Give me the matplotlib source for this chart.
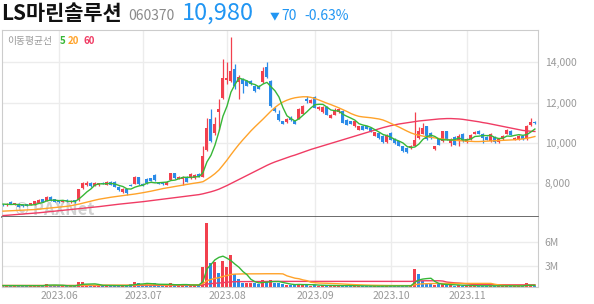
import numpy as np
import matplotlib
matplotlib.use('Agg')
import matplotlib.pyplot as plt
from matplotlib.ticker import FuncFormatter

plt.rcParams['font.family'] = ['Noto Sans CJK KR', 'DejaVu Sans']

# 일봉 데이터 (2023.05.11 ~ 2023.11.24, 거래일 인덱스 기준)
opens = [6930, 6920, 7080, 6960, 6980, 6900, 6950, 6930, 6950, 7030,
         7200, 7120, 7330, 7200, 7150, 7080, 7170, 7050, 7150, 7160,
         7750, 7900, 8000, 7870, 7920, 8020, 7920, 8080, 8080, 7830,
         7570, 7700, 7920, 7980, 8300, 7980, 8230, 8250, 8400, 8030,
         8010, 7920, 8170, 8500, 8220, 8220, 8330, 8250, 8250, 8460,
         8330, 9630, 11200, 10500, 11530, 12250, 13130, 13080, 13660, 13030,
         13160, 13080, 13080, 12830, 12830, 13000, 13750, 13080, 11750, 11450,
         11080, 11030, 11250, 11080, 11200, 11450, 12200, 12000, 12300, 11660,
         11530, 11800, 11250, 11410, 11530, 11580, 11160, 11080, 10830, 10660,
         10830, 10830, 10750, 10370, 10500, 10370, 10050, 10500, 10200, 10080,
         9830, 9750, 9750, 9860, 10250, 10450, 10830, 10500, 9700, 10200,
         10080, 10580, 10000, 10300, 10080, 10460, 10030, 10200, 10450, 10580,
         10450, 10300, 10080, 10300, 10030, 10200, 10450, 10610, 10160, 10160,
         10330, 10200, 10910, 11050]
highs = [6960, 7010, 7100, 7030, 7000, 6920, 6980, 7030, 7130, 7200,
         7230, 7380, 7360, 7230, 7180, 7180, 7200, 7150, 7180, 7720,
         8080, 8100, 8050, 8050, 8040, 8060, 8120, 8100, 8110, 7860,
         7750, 7730, 7950, 8360, 8330, 8000, 8280, 8280, 8450, 8060,
         8040, 8120, 8530, 8530, 8360, 8360, 8360, 8490, 8450, 8490,
         9830, 11250, 11700, 11300, 12160, 14160, 14030, 15250, 13910, 13350,
         13200, 13120, 13120, 12870, 12870, 13750, 14000, 13120, 11800, 11620,
         11110, 11230, 11330, 11110, 11740, 11870, 12330, 12160, 12330, 11830,
         11830, 11830, 11440, 11750, 11730, 11610, 11190, 11110, 11110, 10860,
         10860, 10860, 10780, 10560, 10530, 10400, 10440, 10530, 10230, 10110,
         9860, 9780, 9890, 11530, 10800, 11000, 10860, 10530, 9860, 10230,
         10610, 10610, 10230, 10330, 10450, 10490, 10230, 10440, 10580, 10640,
         10480, 10330, 10480, 10330, 10230, 10400, 10700, 10640, 10280, 10400,
         10360, 10900, 11250, 11100]
lows = [6880, 6900, 6950, 6940, 6830, 6850, 6880, 6910, 6930, 7000,
        7060, 7100, 7130, 7050, 7040, 7060, 7090, 7030, 7030, 7140,
        7720, 7850, 7820, 7850, 7890, 7950, 7900, 7900, 7800, 7630,
        7540, 7420, 7850, 7960, 7940, 7870, 7980, 8100, 8130, 7960,
        7940, 7900, 8150, 8230, 8200, 7920, 8060, 8230, 8230, 8310,
        8310, 9580, 10050, 10400, 10660, 12200, 12910, 13000, 12660, 12160,
        12470, 12800, 12880, 12550, 12670, 12980, 13220, 11800, 11550, 11080,
        10940, 11000, 11080, 10940, 11170, 11420, 12000, 11970, 11720, 11640,
        11500, 11380, 11220, 11390, 11500, 10970, 10880, 10930, 10800, 10630,
        10630, 10670, 10550, 10340, 10220, 10020, 10020, 10130, 9970, 9830,
        9550, 9500, 9720, 9830, 10220, 10420, 10170, 10220, 9670, 9880,
        10050, 10170, 9860, 9880, 9850, 10050, 10000, 10170, 10420, 10420,
        10000, 10130, 10050, 10000, 10000, 10170, 10420, 10380, 10130, 10130,
        10170, 10170, 10830, 10950]
closes = [6910, 6990, 6960, 7000, 6850, 6870, 6900, 7000, 7100, 7160,
          7080, 7330, 7160, 7080, 7060, 7150, 7110, 7120, 7050, 7700,
          8000, 8020, 7850, 8000, 8010, 7980, 8080, 7920, 7830, 7660,
          7710, 7500, 7880, 8300, 7960, 7890, 8000, 8120, 8150, 7990,
          7970, 8080, 8500, 8250, 8330, 8330, 8080, 8460, 8420, 8330,
          9360, 10750, 10080, 10950, 11660, 13200, 13210, 13580, 12830, 13250,
          12910, 12830, 12910, 12580, 12700, 13580, 13250, 11830, 11580, 11160,
          10960, 11200, 11160, 10960, 11700, 11830, 12080, 12130, 11750, 11800,
          11800, 11410, 11410, 11580, 11700, 11000, 10910, 10960, 11080, 10830,
          10660, 10700, 10580, 10530, 10250, 10050, 10410, 10160, 10000, 9860,
          9580, 9550, 9860, 10160, 10580, 10750, 10200, 10250, 9830, 9910,
          10580, 10200, 10200, 9910, 10370, 10080, 10200, 10410, 10550, 10450,
          10250, 10160, 10450, 10030, 10200, 10370, 10660, 10410, 10250, 10370,
          10200, 10860, 11050, 10980]

# 이동평균선
ma5 = [6970, 6960, 6950, 6960, 6942, 6934, 6916, 6924, 6944, 7006,
       7048, 7134, 7166, 7162, 7142, 7156, 7112, 7104, 7098, 7226,
       7396, 7578, 7724, 7914, 7976, 7972, 7984, 7998, 7964, 7894,
       7840, 7724, 7716, 7810, 7870, 7906, 8006, 8054, 8024, 8030,
       8046, 8062, 8138, 8158, 8226, 8298, 8298, 8290, 8324, 8324,
       8530, 9064, 9388, 9894, 10560, 11328, 11820, 12520, 12896, 13214,
       13156, 13080, 12946, 12896, 12786, 12920, 13004, 12788, 12588, 12280,
       11756, 11346, 11212, 11088, 11196, 11370, 11546, 11740, 11898, 11918,
       11912, 11778, 11634, 11600, 11580, 11420, 11320, 11230, 11130, 10956,
       10888, 10846, 10770, 10660, 10544, 10422, 10364, 10280, 10174, 10096,
       10002, 9830, 9770, 9802, 9946, 10180, 10310, 10388, 10322, 10188,
       10154, 10154, 10144, 10160, 10252, 10152, 10152, 10194, 10322, 10338,
       10372, 10364, 10372, 10268, 10218, 10242, 10342, 10334, 10378, 10412,
       10378, 10418, 10546, 10692]
ma20 = [6620, 6630, 6640, 6650, 6660, 6670, 6680, 6690, 6700, 6720,
        6740, 6760, 6780, 6800, 6820, 6840, 6860, 6890, 6930, 6970,
        7020, 7070, 7120, 7165, 7210, 7245, 7280, 7310, 7340, 7365,
        7390, 7415, 7440, 7470, 7500, 7535, 7570, 7610, 7650, 7695,
        7740, 7775, 7810, 7845, 7880, 7915, 7950, 7980, 8010, 8040,
        8080, 8200, 8330, 8480, 8660, 8900, 9150, 9420, 9680, 9930,
        10160, 10380, 10600, 10800, 10990, 11180, 11380, 11580, 11760, 11910,
        12030, 12120, 12190, 12240, 12270, 12290, 12290, 12260, 12200, 12130,
        12050, 11970, 11900, 11820, 11740, 11650, 11560, 11460, 11380, 11320,
        11290, 11270, 11250, 11220, 11190, 11140, 11060, 10970, 10880, 10790,
        10690, 10590, 10500, 10430, 10380, 10340, 10310, 10280, 10250, 10220,
        10190, 10170, 10150, 10130, 10115, 10100, 10090, 10080, 10070, 10070,
        10080, 10090, 10100, 10110, 10120, 10130, 10140, 10150, 10160, 10180,
        10200, 10230, 10270, 10320]
ma60 = [6400, 6415, 6430, 6445, 6460, 6475, 6490, 6505, 6520, 6540,
        6560, 6580, 6600, 6620, 6640, 6660, 6680, 6700, 6720, 6740,
        6760, 6780, 6800, 6820, 6845, 6870, 6895, 6920, 6945, 6965,
        6985, 7005, 7025, 7045, 7065, 7090, 7115, 7140, 7165, 7190,
        7210, 7235, 7260, 7285, 7310, 7335, 7360, 7385, 7410, 7440,
        7480, 7530, 7580, 7640, 7710, 7800, 7890, 7990, 8090, 8190,
        8290, 8390, 8490, 8590, 8690, 8790, 8890, 8980, 9060, 9130,
        9200, 9270, 9340, 9400, 9470, 9540, 9610, 9680, 9740, 9800,
        9860, 9920, 9980, 10040, 10100, 10160, 10220, 10280, 10340, 10400,
        10460, 10520, 10580, 10640, 10700, 10760, 10810, 10860, 10900, 10940,
        10970, 11000, 11030, 11060, 11090, 11110, 11130, 11150, 11170, 11190,
        11200, 11210, 11210, 11200, 11190, 11170, 11140, 11110, 11080, 11050,
        11010, 10980, 10940, 10900, 10860, 10820, 10780, 10740, 10700, 10660,
        10620, 10600, 10580, 10570]

# 거래량 (백만 주)
volume = [0.45, 0.5, 0.45, 0.4, 0.5, 0.4, 0.4, 0.45, 0.5, 0.45,
          0.4, 0.7, 0.5, 0.45, 0.4, 0.4, 0.45, 0.4, 0.45, 0.85,
          0.95, 0.55, 0.5, 0.5, 0.45, 0.4, 0.5, 0.45, 0.45, 0.45,
          0.4, 0.45, 0.65, 0.95, 0.75, 0.5, 0.8, 0.5, 0.8, 0.5,
          0.45, 0.5, 0.8, 0.55, 0.5, 0.55, 0.5, 0.55, 0.5, 0.5,
          2.87, 8.5, 3.4, 3.5, 2.1, 3.6, 2.8, 4.37, 1.94, 1.3,
          0.82, 0.82, 0.82, 0.82, 0.65, 1.17, 0.95, 1.17, 0.82, 0.75,
          0.6, 0.55, 0.55, 0.5, 0.7, 0.6, 0.5, 0.45, 0.55, 0.45,
          0.5, 0.45, 0.4, 0.45, 0.4, 0.5, 0.45, 0.4, 0.4, 0.4,
          0.4, 0.35, 0.4, 0.35, 0.4, 0.45, 0.4, 0.4, 0.35, 0.4,
          0.45, 0.45, 0.4, 2.58, 1.94, 1.08, 0.7, 0.65, 0.55, 0.6,
          0.65, 0.55, 0.5, 0.45, 0.5, 0.45, 0.45, 0.4, 0.45, 0.4,
          0.45, 0.4, 0.45, 0.4, 0.4, 0.4, 0.45, 0.4, 0.4, 0.4,
          0.4, 0.74, 0.5, 0.4]
vol_colors = ("brbrbbbrrr" "brbbbrbrbr" "rrbrrbrbbb" "rbbrbbbbbb" "brrbrrbrrb"
              "rrbrbrrrbb" "brrbbrbrbb" "brbbrrbrbr" "rbrrrbbbrr" "bbbrbbrbbb"
              "bbrrbbbbrb" "rbrbrbrrrb" "bbrbrrrbrr" "brrb")
vma5 = [0.45, 0.45, 0.46, 0.46, 0.46, 0.45, 0.45, 0.44, 0.45, 0.45,
        0.44, 0.5, 0.51, 0.52, 0.51, 0.49, 0.44, 0.42, 0.42, 0.51,
        0.62, 0.64, 0.66, 0.67, 0.59, 0.48, 0.47, 0.46, 0.45, 0.45,
        0.45, 0.44, 0.48, 0.58, 0.64, 0.66, 0.73, 0.7, 0.67, 0.62,
        0.61, 0.61, 0.61, 0.56, 0.56, 0.58, 0.58, 0.53, 0.52, 0.52,
        0.98, 2.58, 3.15, 3.75, 4.07, 4.22, 3.96, 3.65, 3.2, 2.8,
        2.25, 1.85, 1.25, 0.95, 0.79, 0.86, 0.88, 0.95, 0.97, 0.97,
        0.85, 0.75, 0.64, 0.58, 0.6, 0.58, 0.58, 0.56, 0.56, 0.51,
        0.49, 0.48, 0.47, 0.46, 0.45, 0.44, 0.45, 0.44, 0.43, 0.42,
        0.41, 0.39, 0.39, 0.38, 0.38, 0.39, 0.4, 0.4, 0.4, 0.4,
        0.41, 0.42, 0.42, 0.87, 1.17, 1.29, 1.35, 1.39, 0.98, 0.72,
        0.63, 0.59, 0.57, 0.55, 0.53, 0.49, 0.47, 0.45, 0.45, 0.43,
        0.43, 0.42, 0.43, 0.42, 0.42, 0.41, 0.42, 0.41, 0.41, 0.41,
        0.41, 0.48, 0.49, 0.49]
vma20 = [0.46, 0.46, 0.46, 0.46, 0.46, 0.46, 0.46, 0.46, 0.46, 0.46,
         0.46, 0.46, 0.47, 0.47, 0.47, 0.47, 0.46, 0.46, 0.46, 0.48,
         0.5, 0.5, 0.5, 0.5, 0.5, 0.5, 0.5, 0.5, 0.5, 0.5,
         0.5, 0.5, 0.51, 0.53, 0.54, 0.54, 0.55, 0.55, 0.56, 0.54,
         0.52, 0.52, 0.54, 0.54, 0.54, 0.55, 0.55, 0.55, 0.56, 0.56,
         0.68, 1.08, 1.23, 1.38, 1.46, 1.62, 1.74, 1.88, 1.92, 1.94,
         1.95, 1.95, 1.96, 1.96, 1.96, 1.97, 1.97, 1.97, 1.97, 1.97,
         1.95, 1.7, 1.55, 1.4, 1.33, 1.18, 1.08, 0.87, 0.82, 0.78,
         0.77, 0.75, 0.73, 0.71, 0.68, 0.65, 0.62, 0.59, 0.57, 0.55,
         0.53, 0.51, 0.5, 0.49, 0.48, 0.47, 0.47, 0.46, 0.46, 0.45,
         0.45, 0.45, 0.45, 0.56, 0.64, 0.68, 0.7, 0.71, 0.72, 0.72,
         0.73, 0.73, 0.73, 0.73, 0.73, 0.73, 0.73, 0.73, 0.73, 0.73,
         0.73, 0.73, 0.73, 0.62, 0.54, 0.5, 0.48, 0.47, 0.46, 0.45,
         0.45, 0.47, 0.47, 0.47]
vma60 = [0.45, 0.45, 0.45, 0.45, 0.45, 0.45, 0.45, 0.45, 0.45, 0.45,
         0.45, 0.45, 0.45, 0.45, 0.45, 0.45, 0.45, 0.45, 0.45, 0.45,
         0.46, 0.46, 0.46, 0.46, 0.46, 0.46, 0.46, 0.46, 0.46, 0.46,
         0.47, 0.47, 0.47, 0.47, 0.47, 0.47, 0.47, 0.47, 0.47, 0.47,
         0.48, 0.48, 0.48, 0.48, 0.48, 0.48, 0.48, 0.48, 0.48, 0.48,
         0.52, 0.65, 0.7, 0.75, 0.78, 0.83, 0.87, 0.93, 0.95, 0.96,
         0.96, 0.97, 0.97, 0.97, 0.97, 0.98, 0.98, 0.99, 0.99, 0.99,
         0.99, 0.99, 0.99, 0.99, 0.99, 0.99, 0.99, 0.99, 0.99, 0.99,
         0.99, 0.99, 0.99, 0.99, 0.99, 0.99, 0.99, 0.99, 0.99, 0.99,
         0.99, 0.99, 0.99, 0.99, 0.99, 0.99, 0.99, 0.99, 0.99, 0.99,
         0.99, 0.99, 0.99, 1.03, 1.06, 1.07, 1.07, 1.07, 1.07, 1.07,
         1.03, 0.9, 0.85, 0.8, 0.77, 0.72, 0.68, 0.62, 0.6, 0.58,
         0.57, 0.57, 0.56, 0.56, 0.56, 0.56, 0.55, 0.55, 0.55, 0.55,
         0.55, 0.55, 0.55, 0.55]

# 월 시작 거래일 인덱스와 라벨
month_idx = [14, 35, 56, 78, 97, 116]
month_labels = ['2023.06', '2023.07', '2023.08', '2023.09', '2023.10', '2023.11']

RED = '#f2404e'
BLUE = '#2b8be8'
C5, C20, C60 = '#37b737', '#ffa32a', '#f03c64'
GRID = '#ececec'
TXT = '#999999'

n = len(closes)
idx = np.arange(n)
o = np.array(opens); h = np.array(highs); l = np.array(lows); c = np.array(closes)
cols = np.where(c >= o, RED, BLUE)

W, H = 594, 304
fig = plt.figure(figsize=(W / 100, H / 100), dpi=100)
x0, x1 = 2, 537.7
ax = fig.add_axes([x0 / W, 1 - 217 / H, (x1 - x0) / W, (217 - 30) / H])
axv = fig.add_axes([x0 / W, 1 - 287 / H, (x1 - x0) / W, (287 - 217) / H], sharex=ax)

# 캔들
ax.vlines(idx, l, h, colors=cols, lw=0.9, zorder=2)
ax.bar(idx, np.maximum(np.abs(c - o), 40), bottom=np.minimum(o, c), width=0.75,
       color=cols, lw=0, zorder=2)
ax.plot(idx, ma60, color=C60, lw=1.0, zorder=3)
ax.plot(idx, ma20, color=C20, lw=1.0, zorder=3)
ax.plot(idx, ma5, color=C5, lw=1.0, zorder=3)

ax.set_xlim(-0.25, 133.7)
ax.set_ylim(6330, 15600)
ax.set_yticks([8000, 10000, 12000, 14000])
ax.yaxis.set_major_formatter(FuncFormatter(lambda v, p: f'{int(v):,}'))
ax.yaxis.tick_right()
ax.tick_params(axis='y', length=0, pad=5, labelsize=7.5, labelcolor=TXT)
ax.tick_params(axis='x', length=0, labelbottom=False)
ax.set_xticks(month_idx)
ax.grid(True, color=GRID, lw=1, zorder=0)
ax.set_axisbelow(True)
for s in ['top', 'left', 'right']:
    ax.spines[s].set_color('#cccccc')
ax.spines['bottom'].set_color('#444444')
ax.spines['bottom'].set_linewidth(1.1)

ax.text(3, 6450, '© PAXNet', fontsize=12, fontweight='bold', style='italic',
        color='#999999', alpha=0.45, zorder=1)

# 거래량
vc = [RED if k == 'r' else BLUE for k in vol_colors]
axv.bar(idx, np.array(volume) * 1e6, width=0.75, color=vc, lw=0, zorder=2)
axv.plot(idx, np.array(vma60) * 1e6, color=C60, lw=1.0, zorder=3)
axv.plot(idx, np.array(vma20) * 1e6, color=C20, lw=1.0, zorder=3)
axv.plot(idx, np.array(vma5) * 1e6, color=C5, lw=1.0, zorder=3)
axv.set_ylim(0.27e6, 9.24e6)
axv.set_yticks([3e6, 6e6])
axv.set_yticklabels(['3M', '6M'])
axv.yaxis.tick_right()
axv.tick_params(axis='y', length=0, pad=5, labelsize=7.5, labelcolor=TXT)
axv.set_xticks(month_idx)
axv.set_xticklabels(month_labels)
axv.tick_params(axis='x', length=0, pad=3, labelsize=7.5, labelcolor=TXT)
axv.grid(True, color=GRID, lw=1, zorder=0)
axv.set_axisbelow(True)
axv.spines['top'].set_visible(False)
for s in ['left', 'right', 'bottom']:
    axv.spines[s].set_color('#cccccc')

# 상단 타이틀
base = 1 - 20 / H
fig.text(1 / W, base, 'LS마린솔루션', fontsize=15, fontweight='bold',
         color='#111111', va='baseline')
fig.text(128 / W, base, '060370', fontsize=10, color='#8a8a8a', va='baseline')
fig.text(182 / W, base, '10,980', fontsize=17, color='#2196f3', va='baseline')
fig.text(270 / W, base + 1 / H, '▼', fontsize=7, color='#2196f3', va='baseline')
fig.text(281 / W, base, '70', fontsize=10, color='#2196f3', va='baseline')
fig.text(304 / W, base, '-0.63%', fontsize=10, color='#2196f3', va='baseline')

# 이동평균선 범례
fig.text(7 / W, 1 - 41 / H, '이동평균선', fontsize=7, color=TXT, va='center')
fig.text(60 / W, 1 - 41 / H, '5', fontsize=7, color=C5, va='center', fontweight='bold')
fig.text(68 / W, 1 - 41 / H, '20', fontsize=7, color=C20, va='center', fontweight='bold')
fig.text(84 / W, 1 - 41 / H, '60', fontsize=7, color=C60, va='center', fontweight='bold')

fig.savefig('out.png', dpi=100)
